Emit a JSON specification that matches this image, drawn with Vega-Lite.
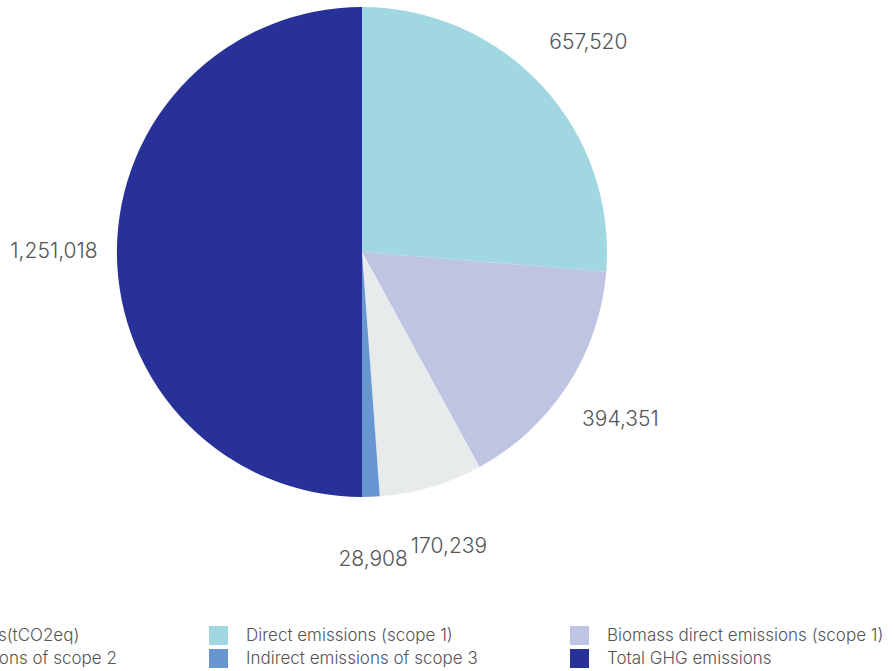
{
  "$schema": "https://vega.github.io/schema/vega-lite/v6.json",
  "width": 724,
  "height": 504,
  "autosize": {"type": "none"},
  "padding": {"left": 0, "top": 0, "right": 170, "bottom": 167},
  "background": "white",
  "view": {"stroke": null},
  "data": {
    "values": [
      {"category": "Direct emissions (scope 1)", "value": 657520, "idx": 1},
      {"category": "Biomass direct emissions (scope 1)", "value": 394351, "idx": 2},
      {"category": "Indirect emissions of scope 2", "value": 170239, "idx": 3},
      {"category": "Indirect emissions of scope 3", "value": 28908, "idx": 4},
      {"category": "Total GHG emissions", "value": 1251018, "idx": 5}
    ]
  },
  "encoding": {
    "theta": {"field": "value", "type": "quantitative", "stack": true},
    "order": {"field": "idx", "type": "quantitative"}
  },
  "layer": [
    {
      "mark": {"type": "arc", "outerRadius": 245, "stroke": null},
      "encoding": {
        "color": {
          "field": "category",
          "type": "nominal",
          "scale": {
            "domain": ["GHG emissions(tCO2eq)", "Indirect emissions of scope 2", "Direct emissions (scope 1)", "Indirect emissions of scope 3", "Biomass direct emissions (scope 1)", "Total GHG emissions"],
            "range": ["#c9cdd1", "#e8ebec", "#a1d7e0", "#6796d0", "#bec4e2", "#283197"]
          },
          "legend": {
            "orient": "none",
            "legendX": -152,
            "legendY": 626,
            "columns": 3,
            "title": null,
            "symbolType": "square",
            "symbolSize": 361,
            "symbolStrokeWidth": 0,
            "labelFontSize": 17,
            "labelFont": "Inter",
            "labelFontWeight": 300,
            "labelColor": "#555555",
            "labelOffset": 18,
            "labelLimit": 400,
            "columnPadding": 92,
            "rowPadding": 4,
            "padding": 0
          }
        }
      }
    },
    {
      "mark": {"type": "text", "radius": 308, "fontSize": 21, "font": "Inter", "fontWeight": 300, "color": "#555555"},
      "encoding": {
        "text": {"field": "value", "type": "quantitative", "format": ",d"}
      }
    }
  ]
}
